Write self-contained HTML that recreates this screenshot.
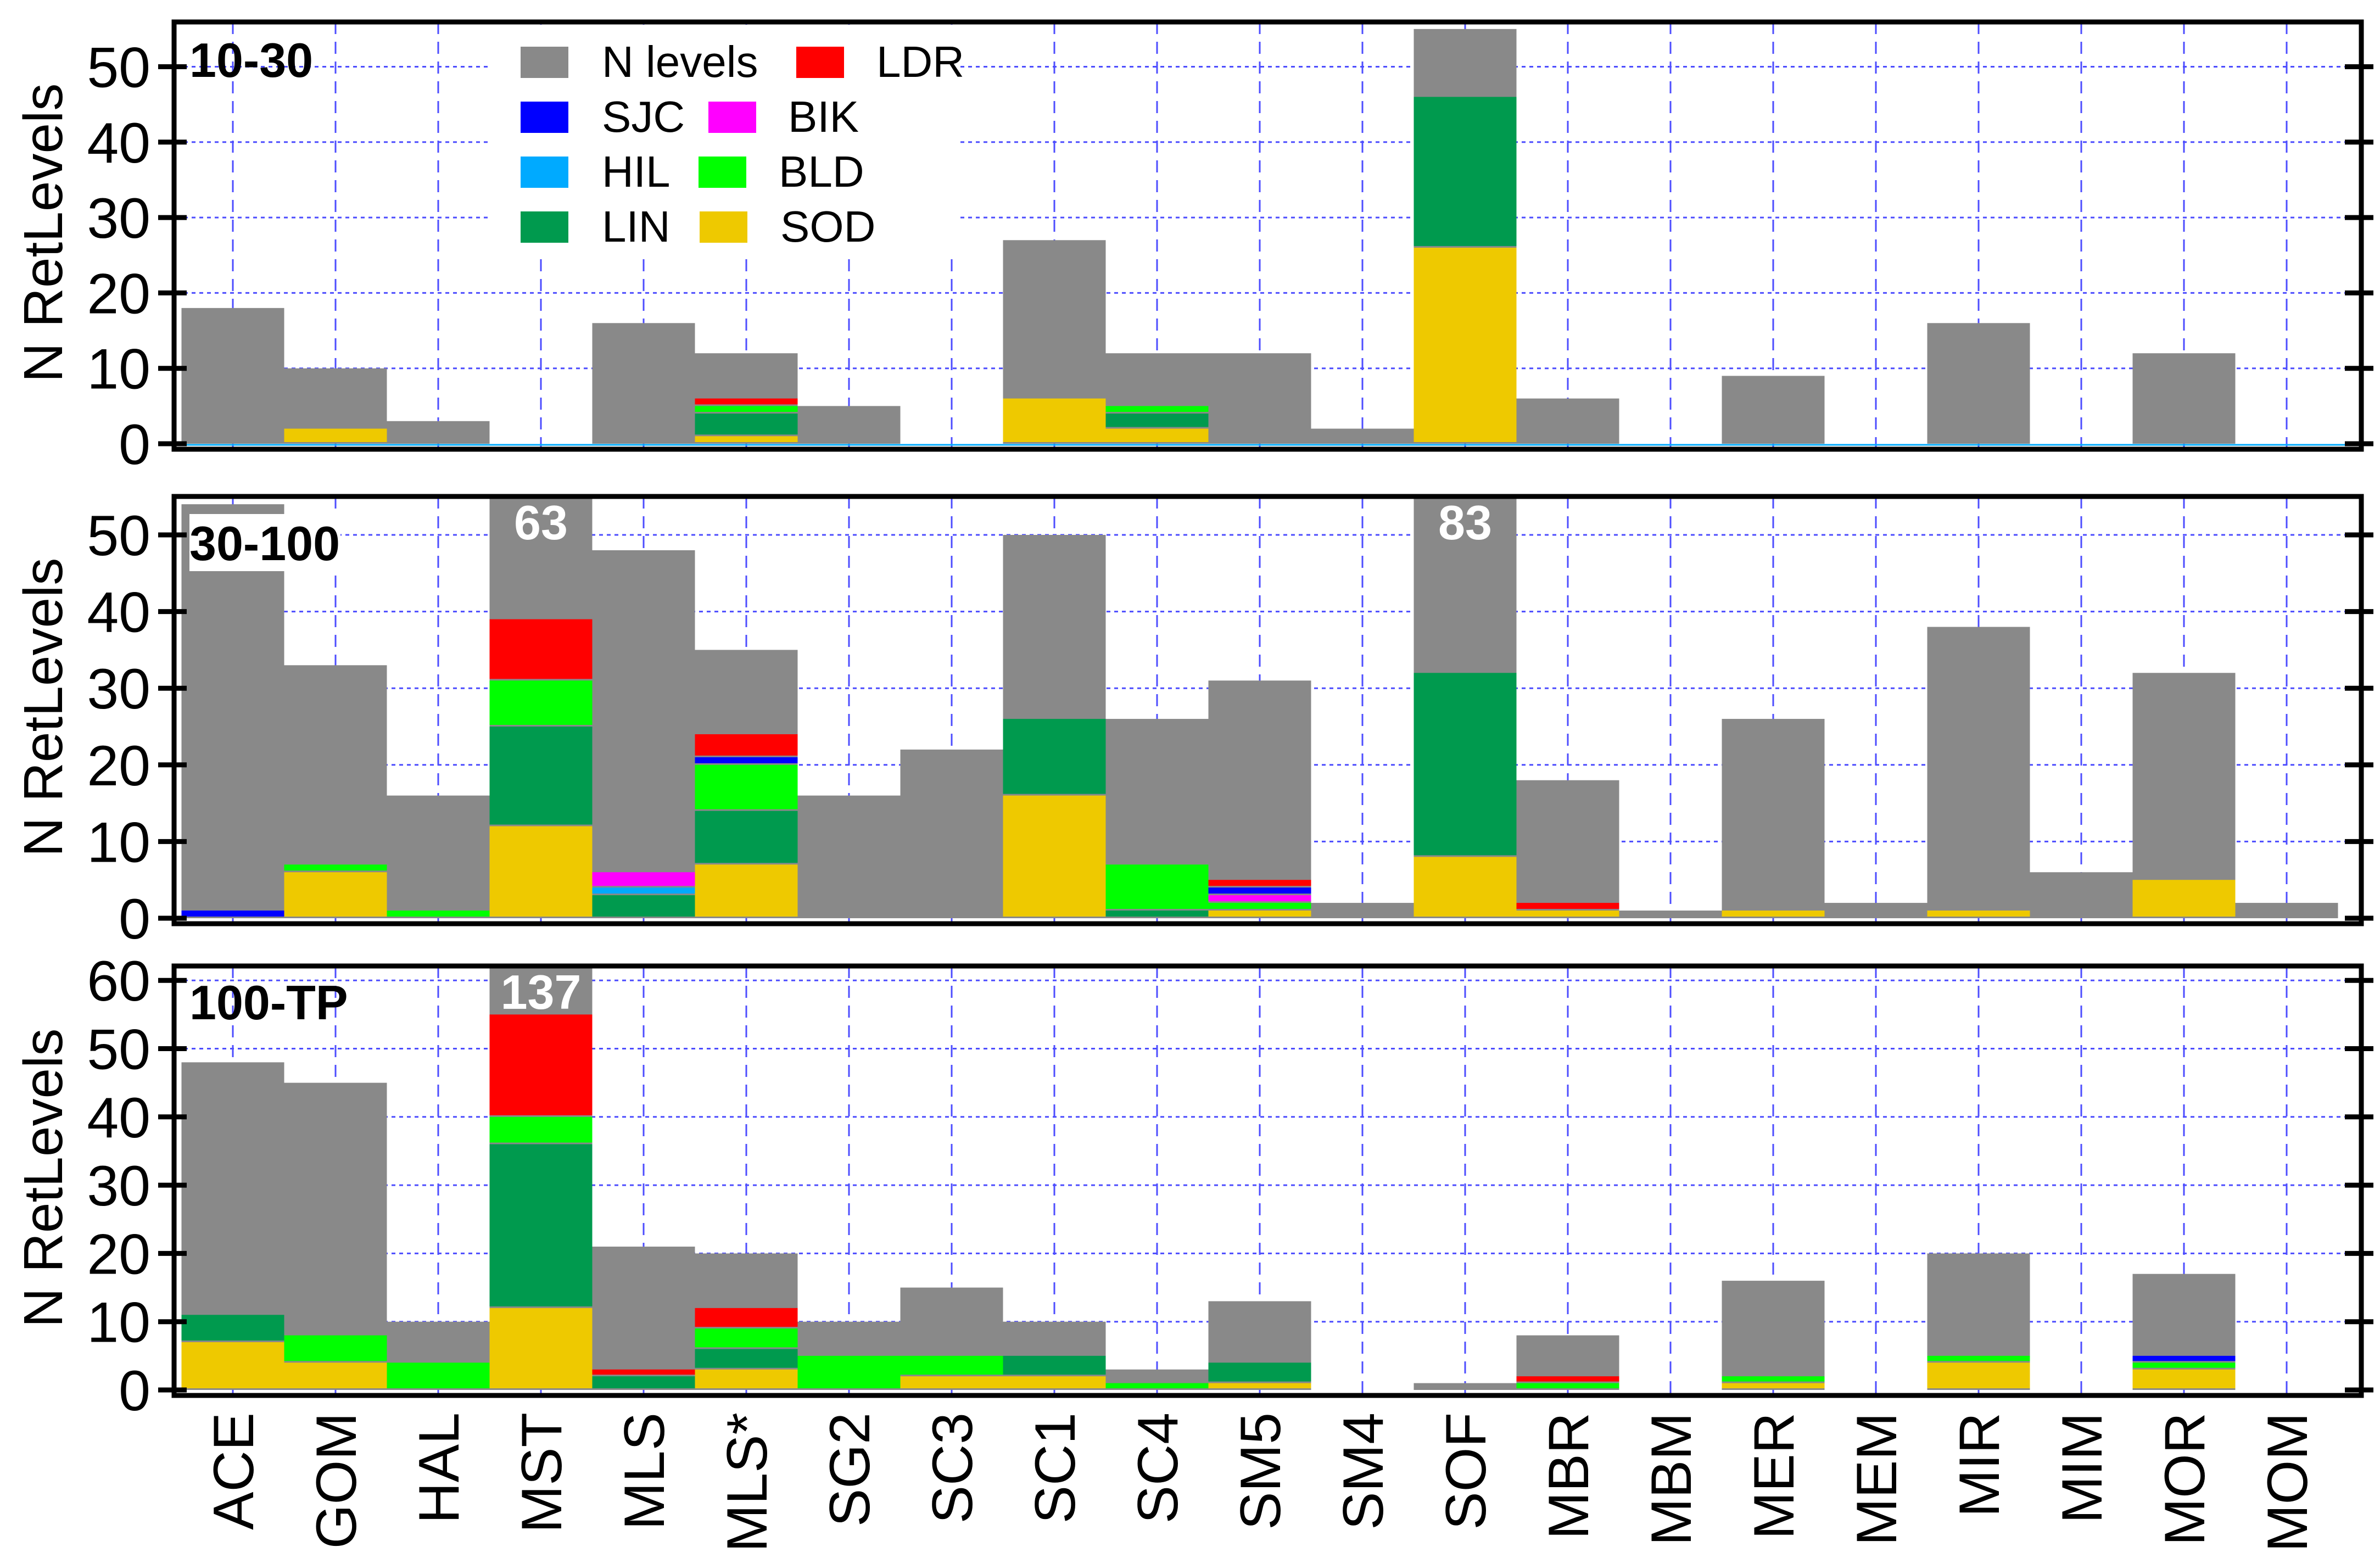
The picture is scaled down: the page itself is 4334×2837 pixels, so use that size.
<!DOCTYPE html>
<html><head><meta charset="utf-8">
<style>
html,body{margin:0;padding:0;background:#fff;}
svg{display:block;}
text{font-family:"Liberation Sans",sans-serif;}
</style></head>
<body>
<svg id="chart" xmlns="http://www.w3.org/2000/svg" width="4334" height="2837" viewBox="0 0 4334 2837"></svg>
<script>
const categories = ["ACE","GOM","HAL","MST","MLS","MLS*","SG2","SC3","SC1","SC4","SM5","SM4","SOF","MBR","MBM","MER","MEM","MIR","MIM","MOR","MOM"];
const seriesNames = ["SOD","LIN","BLD","HIL","BIK","SJC","LDR"];
const seriesColors = {SOD:"#eec900",LIN:"#009a4e",BLD:"#00ff00",HIL:"#00aaff",BIK:"#ff00ff",SJC:"#0000ff",LDR:"#ff0000"};
const yTicks1 = [0,10,20,30,40,50];
const yTicks2 = [0,10,20,30,40,50];
const yTicks3 = [0,10,20,30,40,50,60];

// Panel 1: 10-30
const total1 = [18,10,3,0,16,12,5,0,27,12,12,2,55,6,0,9,0,16,0,12,0];
const sod1 = [0,2,0,0,0,1,0,0,6,2,0,0,26,0,0,0,0,0,0,0,0];
const lin1 = [0,0,0,0,0,3,0,0,0,2,0,0,20,0,0,0,0,0,0,0,0];
const bld1 = [0,0,0,0,0,1,0,0,0,1,0,0,0,0,0,0,0,0,0,0,0];
const hil1 = [0,0,0,0,0,0,0,0,0,0,0,0,0,0,0,0,0,0,0,0,0];
const bik1 = [0,0,0,0,0,0,0,0,0,0,0,0,0,0,0,0,0,0,0,0,0];
const sjc1 = [0,0,0,0,0,0,0,0,0,0,0,0,0,0,0,0,0,0,0,0,0];
const ldr1 = [0,0,0,0,0,1,0,0,0,0,0,0,0,0,0,0,0,0,0,0,0];

// Panel 2: 30-100
const total2 = [54,33,16,63,48,35,16,22,50,26,31,2,83,18,1,26,2,38,6,32,2];
const sod2 = [0,6,0,12,0,7,0,0,16,0,1,0,8,1,0,1,0,1,0,5,0];
const lin2 = [0,0,0,13,3,7,0,0,10,1,0,0,24,0,0,0,0,0,0,0,0];
const bld2 = [0,1,1,6,0,6,0,0,0,6,1,0,0,0,0,0,0,0,0,0,0];
const hil2 = [0,0,0,0,1,0,0,0,0,0,0,0,0,0,0,0,0,0,0,0,0];
const bik2 = [0,0,0,0,2,0,0,0,0,0,1,0,0,0,0,0,0,0,0,0,0];
const sjc2 = [1,0,0,0,0,1,0,0,0,0,1,0,0,0,0,0,0,0,0,0,0];
const ldr2 = [0,0,0,8,0,3,0,0,0,0,1,0,0,1,0,0,0,0,0,0,0];

// Panel 3: 100-TP
const total3 = [48,45,10,137,21,20,10,15,10,3,13,0,1,8,0,16,0,20,0,17,0];
const sod3 = [7,4,0,12,0,3,0,2,2,0,1,0,0,0,0,1,0,4,0,3,0];
const lin3 = [4,0,0,24,2,3,0,0,3,0,3,0,0,0,0,0,0,0,0,0,0];
const bld3 = [0,4,4,4,0,3,5,3,0,1,0,0,0,1,0,1,0,1,0,1,0];
const hil3 = [0,0,0,0,0,0,0,0,0,0,0,0,0,0,0,0,0,0,0,0,0];
const bik3 = [0,0,0,0,0,0,0,0,0,0,0,0,0,0,0,0,0,0,0,0,0];
const sjc3 = [0,0,0,0,0,0,0,0,0,0,0,0,0,0,0,0,0,0,0,1,0];
const ldr3 = [0,0,0,15,1,3,0,0,0,0,0,0,0,1,0,0,0,0,0,0,0];

const panels = [
  {name:"10-30", top:40, zero:808, perUnit:13.73, ticks:yTicks1, total:total1,
   series:{SOD:sod1,LIN:lin1,BLD:bld1,HIL:hil1,BIK:bik1,SJC:sjc1,LDR:ldr1}, labelBase:140, labelBox:false, cyanBase:true, maxV:55.9},
  {name:"30-100", top:904, zero:1672, perUnit:13.96, ticks:yTicks2, total:total2,
   series:{SOD:sod2,LIN:lin2,BLD:bld2,HIL:hil2,BIK:bik2,SJC:sjc2,LDR:ldr2}, labelBase:1020, labelBox:true, cyanBase:false, maxV:55.1},
  {name:"100-TP", top:1759, zero:2531, perUnit:12.43, ticks:yTicks3, total:total3,
   series:{SOD:sod3,LIN:lin3,BLD:bld3,HIL:hil3,BIK:bik3,SJC:sjc3,LDR:ldr3}, labelBase:1856, labelBox:false, cyanBase:false, maxV:62.1}
];

const NS = "http://www.w3.org/2000/svg";
const svg = document.getElementById("chart");
const X0 = 321, X1 = 4300;
const BW = 187, C0 = 424;
function xCenter(i){ return C0 + i*BW; }
function mk(tag, attrs, parent){
  const e = document.createElementNS(NS, tag);
  for (const k in attrs) e.setAttribute(k, attrs[k]);
  (parent||svg).appendChild(e);
  return e;
}

panels.forEach((p, pi) => {
  const yOf = v => p.zero - v*p.perUnit;
  const bottom = p.zero + 6;
  const g = mk("g", {});
  
  
  const clipId = "clip"+pi;
  const cp = mk("clipPath", {id:clipId}, g);
  mk("rect", {x:X0, y:p.top, width:X1-X0, height:bottom-p.top}, cp);

  const grid = mk("g", {}, g);
  
  
  p.ticks.forEach(t => {
    if (t === 0) return;
    const l = mk("line", {x1:X0, x2:X1, y1:yOf(t), y2:yOf(t), stroke:"#4d4dff", "stroke-width":3, "stroke-dasharray":"7,7"}, grid);
    
    
  });
  categories.forEach((c, i) => {
    const l = mk("line", {x1:xCenter(i), x2:xCenter(i), y1:p.top, y2:bottom+10, stroke:"#4d4dff", "stroke-width":3, "stroke-dasharray":"22,14"}, grid);
    
    
  });

  const bars = mk("g", {"clip-path":"url(#"+clipId+")"}, g);
  categories.forEach((c, i) => {
    const x = xCenter(i) - BW/2;
    const tot = p.total[i];
    if (tot > 0) {
      const r = mk("rect", {x:x, y:yOf(tot), width:BW, height:p.zero - yOf(tot), fill:"#898989"}, bars);
      
      
    }
    let cum = 0;
    seriesNames.forEach(s => {
      const v = p.series[s][i];
      if (v > 0) {
        const y0 = yOf(cum), y1 = yOf(cum + v);
        const r = mk("rect", {x:x, y:y1, width:BW, height:Math.max(2, y0 - y1 - 3), fill:seriesColors[s]}, bars);
        
        
        cum += v;
      }
    });
    if (tot > p.maxV) {
      const t = mk("text", {x:xCenter(i), y:p.top+78, "text-anchor":"middle", "font-size":88, "font-weight":"bold", fill:"#fff"}, g);
      t.textContent = String(tot);
      
      
    }
  });
  if (p.cyanBase) {
    const l = mk("line", {x1:X0, x2:X1, y1:p.zero+2, y2:p.zero+2, stroke:"#00aaff", "stroke-width":3}, g);
    
    
  }

  const fr = mk("rect", {x:X0-4, y:p.top, width:X1-X0+4, height:bottom-p.top+4, fill:"none", stroke:"#000", "stroke-width":9}, g);
  
  

  p.ticks.forEach(t => {
    const y = yOf(t);
    const tk = mk("line", {x1:288, x2:340, y1:y, y2:y, stroke:"#000", "stroke-width":9}, g);
    
    
    const tk2 = mk("line", {x1:X1-30, x2:X1+22, y1:y, y2:y, stroke:"#000", "stroke-width":9}, g);
    
    
    const lb = mk("text", {x:274, y:y+37, "text-anchor":"end", "font-size":104, fill:"#000"}, g);
    lb.textContent = String(t);
    
    
  });

  const midY = (p.top + p.zero)/2;
  const yt = mk("text", {x:0, y:0, "text-anchor":"middle", "font-size":100, fill:"#000", transform:"translate(113,"+midY+") rotate(-90)"}, g);
  yt.textContent = "N RetLevels";
  
  

  if (p.labelBox) {
    const bx = mk("rect", {x:345, y:936, width:275, height:104, fill:"#fff"}, g);
    
    
  }
  const pl = mk("text", {x:345, y:p.labelBase, "font-size":88, "font-weight":"bold", fill:"#000"}, g);
  pl.textContent = p.name;
  
  
});

categories.forEach((c, i) => {
  const t = mk("text", {x:0, y:0, "text-anchor":"end", "font-size":104, fill:"#000", transform:"translate("+(xCenter(i)+37)+",2572) rotate(-90)"});
  t.textContent = c;
  
  
});

const lg = mk("g", {});


mk("rect", {x:891, y:45, width:852, height:415, fill:"#fff"}, lg);
const legendEntries = [
  ["N levels","#898989",948,1096,0],["LDR","#ff0000",1450,1596,0],
  ["SJC","#0000ff",948,1096,1],["BIK","#ff00ff",1290,1435,1],
  ["HIL","#00aaff",948,1096,2],["BLD","#00ff00",1272,1418,2],
  ["LIN","#009a4e",948,1096,3],["SOD","#eec900",1274,1421,3]
];
legendEntries.forEach(e => {
  const y = 85 + e[4]*100;
  const sw = mk("rect", {x:e[2], y:y, width:87, height:57, fill:e[1]}, lg);
  
  
  const t = mk("text", {x:e[3], y:y+55, "font-size":80, fill:"#000"}, lg);
  t.textContent = e[0];
  
  
});
</script>
</body></html>
